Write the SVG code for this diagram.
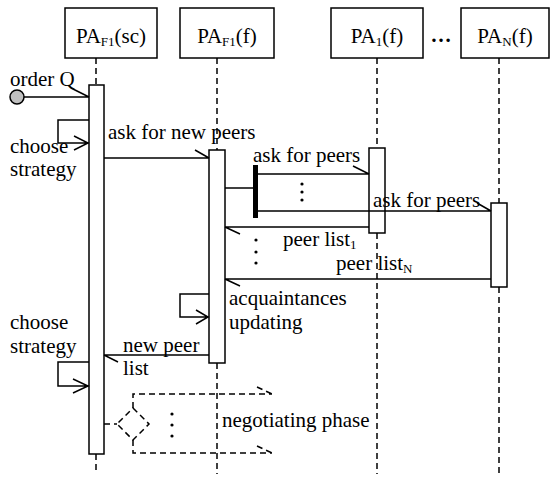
<svg xmlns="http://www.w3.org/2000/svg" width="550" height="477" viewBox="0 0 550 477">
  <style>
    .box { fill: #fff; stroke: #000; stroke-width: 1.5; }
    .life { fill: none; stroke: #000; stroke-width: 1.5; stroke-dasharray: 6 4; }
    .bar { fill: #fff; stroke: #000; stroke-width: 1.5; }
    .msg { fill: none; stroke: #000; stroke-width: 1.5; }
    .dash { fill: none; stroke: #000; stroke-width: 1.5; stroke-dasharray: 6 4; }
    text { font-family: 'Liberation Serif', 'DejaVu Serif', serif; font-size: 21px; fill: #000; }
    .sub { font-size: 13px; }
  </style>

  <!-- lifelines -->
  <g id="lifelines">
    <path class="life" d="M96 58V85M96 454V474"/>
    <path class="life" d="M217 58V150M217 363V474"/>
    <path class="life" d="M377 58V148M377 233V474"/>
    <path class="life" d="M499 58V203M499 287V474"/>
  </g>

  <!-- participant heads -->
  <g id="pa-f1-sc" font-family="Liberation Serif, serif">
    <rect class="box" x="65" y="8" width="92" height="50"/>
    <text x="111" y="43" text-anchor="middle">PA<tspan class="sub" dy="3">F1</tspan><tspan dy="-3">(sc)</tspan></text>
    <rect class="bar" x="89" y="85" width="15" height="369"/>
  </g>
  <g id="pa-f1-f" font-family="Liberation Serif, serif">
    <rect class="box" x="180" y="8" width="94" height="50"/>
    <text x="227" y="43" text-anchor="middle">PA<tspan class="sub" dy="3">F1</tspan><tspan dy="-3">(f)</tspan></text>
    <rect class="bar" x="209" y="150" width="16" height="213"/>
  </g>
  <g id="pa-1-f" font-family="Liberation Serif, serif">
    <rect class="box" x="331" y="8" width="92" height="50"/>
    <text x="377" y="43" text-anchor="middle">PA<tspan class="sub" dy="3">1</tspan><tspan dy="-3">(f)</tspan></text>
    <rect class="bar" x="369" y="148" width="16" height="85"/>
  </g>
  <g id="ellipsis" font-family="Liberation Serif, serif">
    <text x="441" y="42" text-anchor="middle" font-weight="bold">…</text>
  </g>
  <g id="pa-n-f" font-family="Liberation Serif, serif">
    <rect class="box" x="461" y="8" width="88" height="50"/>
    <text x="505" y="43" text-anchor="middle">PA<tspan class="sub" dy="3">N</tspan><tspan dy="-3">(f)</tspan></text>
    <rect class="bar" x="491" y="203" width="16" height="84"/>
  </g>

  <!-- start point -->
  <g id="start">
    <circle cx="17" cy="97" r="7" fill="#c0c0c0" stroke="#000" stroke-width="1.5"/>
  </g>

  <!-- messages -->
  <g id="connectors">
    <!-- order Q -->
    <path class="msg" d="M24 97H89M71 88L89 97"/>
    <!-- choose strategy (1) -->
    <path class="msg" d="M89 120H58V143H89M74 136L88 143L74 150"/>
    <!-- ask for new peers -->
    <path class="msg" d="M104 158H209M195 150L209 158"/>
    <!-- fork -->
    <path class="msg" d="M225 188H253"/>
    <rect x="253" y="165" width="5" height="53" fill="#000"/>
    <path class="msg" d="M258 174H369M353 166L369 174"/>
    <path class="msg" d="M258 211H491M477 203L491 211"/>
    <!-- replies -->
    <path class="msg" d="M369 227H225M225 227L240 234"/>
    <path class="msg" d="M491 279H225M225 279L240 286"/>
    <!-- acquaintances updating -->
    <path class="msg" d="M209 294H180V317H209M196 310L208 317L196 324"/>
    <!-- new peer list -->
    <path class="msg" d="M209 355H104M104 355L118 362"/>
    <!-- choose strategy (2) -->
    <path class="msg" d="M89 362H58V386H89M73 379L88 386L73 393"/>
    <!-- negotiating phase -->
    <path class="dash" d="M104 424H117"/>
    <path class="dash" d="M133 408L149 424L133 440L117 424Z"/>
    <path class="dash" d="M133 408V394H272M257 387L272 394"/>
    <path class="dash" d="M133 440V453H272M257 446L272 453"/>
  </g>

  <!-- vertical dots -->
  <g id="dots" fill="#000">
    <circle cx="302" cy="184" r="1.6"/>
    <circle cx="302" cy="192" r="1.6"/>
    <circle cx="302" cy="200" r="1.6"/>
    <circle cx="256" cy="240" r="1.6"/>
    <circle cx="256" cy="252" r="1.6"/>
    <circle cx="256" cy="263" r="1.6"/>
    <circle cx="172" cy="414" r="1.6"/>
    <circle cx="172" cy="425" r="1.6"/>
    <circle cx="172" cy="436" r="1.6"/>
  </g>

  <!-- labels -->
  <g id="labels" font-family="Liberation Serif, serif">
    <text x="10" y="86">order Q</text>
    <text x="10" y="153">choose</text>
    <text x="10" y="176">strategy</text>
    <text x="108" y="139">ask for new peers</text>
    <text x="253" y="162">ask for peers</text>
    <text x="373" y="207">ask for peers</text>
    <text x="283" y="246">peer list<tspan class="sub" dy="3">1</tspan></text>
    <text x="336" y="270">peer list<tspan class="sub" dy="3">N</tspan></text>
    <text x="229" y="305">acquaintances</text>
    <text x="229" y="329">updating</text>
    <text x="10" y="329">choose</text>
    <text x="10" y="353">strategy</text>
    <text x="123" y="352">new peer</text>
    <text x="123" y="375">list</text>
    <text x="222" y="427">negotiating phase</text>
  </g>
</svg>
